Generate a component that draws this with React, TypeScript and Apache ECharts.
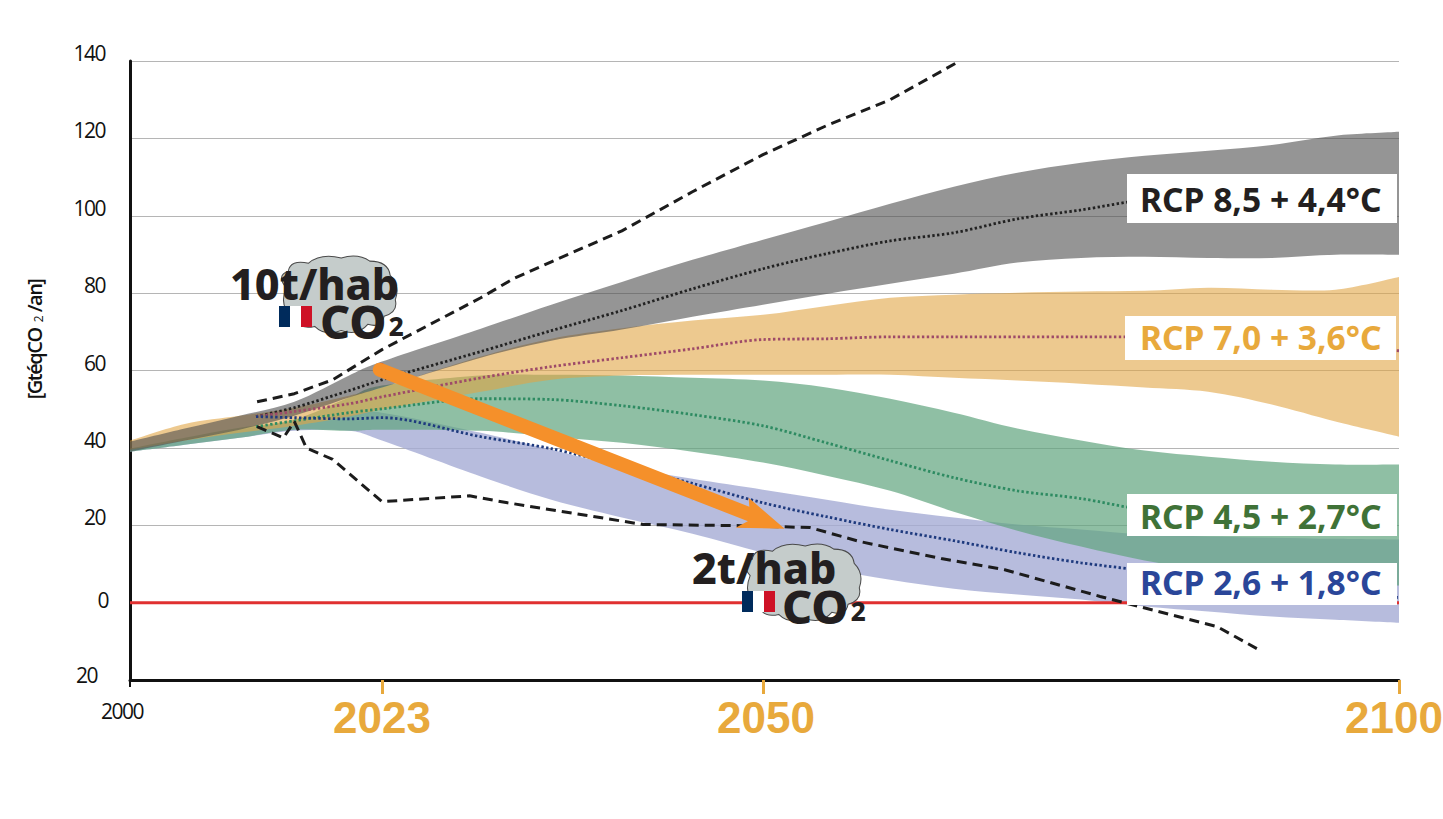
import React, { useEffect, useRef } from "react";
import * as echarts from "echarts";

const years = [2000, 2005, 2010, 2015, 2020, 2023, 2030, 2035, 2040, 2045, 2050, 2055, 2060, 2065, 2070, 2075, 2080, 2085, 2090, 2095, 2100];
const lineYears = [2011.5, 2015, 2020, 2023, 2030, 2035, 2040, 2045, 2050, 2055, 2060, 2065, 2070, 2075, 2080, 2085, 2090, 2095, 2100];

const grayUpper = [41.6, 45, 48.3, 51.9, 58.7, 62.3, 70.8, 77, 82.9, 88.6, 93.8, 98.4, 103.1, 107.5, 111.1, 113.7, 115.5, 116.8, 118.3, 120.7, 121.7];
const grayLower = [39, 41.9, 44.7, 48.3, 53, 55.6, 63.3, 67.7, 70.6, 73.9, 77, 79.8, 82.4, 85, 87.9, 89.1, 89.4, 89.1, 89.1, 89.9, 89.9];
const orangeUpper = [41.9, 46.2, 48.3, 50.4, 53.5, 55.6, 63.6, 68.2, 70.9, 72.9, 74.4, 76.7, 78.8, 79.6, 80.1, 80.4, 80.6, 81.4, 80.9, 80.9, 84.2];
const orangeLower = [39.5, 41.9, 43.9, 45.7, 48.1, 49.9, 54.5, 57.6, 58.7, 58.9, 58.9, 58.9, 58.9, 58.1, 57.4, 56.6, 55.6, 54.5, 51.2, 46.8, 42.9];
const greenUpper = [39.8, 42.6, 45.2, 47.3, 53, 56.1, 58.7, 58.9, 58.7, 58.1, 57.4, 55.6, 52.7, 49.1, 45, 41.9, 39.3, 37.7, 36.4, 35.7, 35.7];
const greenLower = [39, 40.8, 42.6, 44.7, 44.4, 44.7, 44.4, 42.9, 41.3, 39, 36.2, 32.8, 28.9, 23.5, 18.6, 14.5, 10.9, 8.5, 6.7, 5.4, 4.4];
const blueUpper = [39.5, 42.1, 44.7, 46.8, 48.6, 49.1, 43.9, 39.5, 35.1, 32, 29.2, 26.6, 24, 22, 20.2, 18.9, 17.6, 17.1, 16.8, 16.5, 16.3];
const blueLower = [39, 40.8, 42.6, 44.4, 44.4, 41.9, 32.6, 26.6, 22, 17.8, 12.9, 8.8, 5.9, 3.6, 2.1, 0.8, -1, -2.3, -3.6, -4.4, -5.2];

const rcp85 = [48.1, 50.4, 54.8, 57.6, 64.9, 70.3, 75.5, 81.1, 86.3, 90.2, 93.5, 95.6, 99.2, 101.5, 104.1, 104.7, 105.2, 105.4, 105.9];
const rcp70 = [48.1, 49.4, 51.4, 53.2, 58.1, 61, 63.3, 65.6, 68, 68.2, 68.7, 68.7, 68.7, 68.7, 68.7, 68, 66.9, 65.9, 65.1];
const rcp45 = [45.5, 47, 49.1, 50.1, 52.7, 52.5, 50.9, 48.6, 45.7, 41.3, 36.7, 32.3, 28.9, 26.9, 24, 23.3, 22.7, 22.2, 22];
const rcp26 = [48.1, 47.8, 47.5, 47.8, 42.9, 39.8, 35.4, 30.8, 25.8, 22.2, 18.9, 16, 12.9, 10.3, 8.3, 6.5, 4.7, 2.8, 1.3];

const highYears = [2011.6, 2015, 2018.5, 2023, 2030, 2032.3, 2035, 2040, 2045, 2050, 2055, 2060, 2065.2];
const highValues = [51.9, 54, 57.6, 65.4, 78.8, 83.7, 88.1, 96.1, 106.2, 115.8, 123.3, 130, 139.5];
const lowYears = [2011.6, 2014, 2015, 2016.1, 2018.5, 2023, 2029.2, 2031.9, 2041.5, 2048.4, 2051.6, 2053.7, 2057.6, 2064, 2069, 2076.5, 2085.7, 2089.1];
const lowValues = [45.5, 42.6, 46.8, 40, 37, 26.1, 27.6, 25.8, 20.2, 19.9, 19.6, 19.4, 15.8, 11.4, 8.5, 1.6, -6.2, -12.4];

const arrowYears = [2022.8, 2051.7];
const arrowValues = [60.2, 19.1];

const axisYears = [2000, 2023, 2050, 2100];
const axisStops = [0, 19.858, 49.882, 100];
const highlightYears = [2023, 2050, 2100];

const yTickMin = -20;
const yTickMax = 140;
const yTickStep = 20;

const scenarioLabels = ["RCP 8,5 + 4,4°C", "RCP 7,0 + 3,6°C", "RCP 4,5 + 2,7°C", "RCP 2,6 + 1,8°C"];
const scenarioColors = ["#231F20", "#E8A93C", "#3F7237", "#2A4699"];

const warp = (year: number) => {
  for (let i = 1; i < axisYears.length; i++) {
    if (year <= axisYears[i]) {
      const t = (year - axisYears[i - 1]) / (axisYears[i] - axisYears[i - 1]);
      return axisStops[i - 1] + t * (axisStops[i] - axisStops[i - 1]);
    }
  }
  return 100;
};
const yearFromStop = (s: number) => axisYears[axisStops.findIndex((v) => Math.abs(v - s) < 0.01)];

const CLOUD =
  "M8 32 Q-2 20 10 16 Q12 4 30 8 Q42 -2 62 3 Q78 -2 90 6 Q108 6 110 20 Q120 30 115 44 Q118 56 104 60 Q102 72 88 68 Q78 80 62 74 Q46 80 36 70 Q20 74 16 60 Q0 52 8 32 Z";
echarts.graphic.registerShape("cloud", echarts.graphic.extendPath(CLOUD as any, {}) as any);

// Catmull-Rom through screen points, continuing an open sub-path
const spline = (pts: number[][], k = 0.16) => {
  let d = "";
  for (let i = 0; i < pts.length - 1; i++) {
    const p0 = pts[Math.max(i - 1, 0)];
    const p1 = pts[i];
    const p2 = pts[i + 1];
    const p3 = pts[Math.min(i + 2, pts.length - 1)];
    const c1 = [p1[0] + (p2[0] - p0[0]) * k, p1[1] + (p2[1] - p0[1]) * k];
    const c2 = [p2[0] - (p3[0] - p1[0]) * k, p2[1] - (p3[1] - p1[1]) * k];
    d += ` C${c1[0]} ${c1[1]} ${c2[0]} ${c2[1]} ${p2[0]} ${p2[1]}`;
  }
  return d;
};

const band = (name: string, upper: number[], lower: number[], color: string) => ({
  type: "custom",
  name,
  silent: true,
  z: 2,
  clip: false,
  data: years.map((y, i) => [warp(y), lower[i], upper[i]]),
  encode: { x: 0, y: [1, 2] },
  renderItem: (p: any, api: any) => {
    if (p.dataIndex !== 0) return null;
    const top = years.map((y, i) => api.coord([warp(y), upper[i]]));
    const bot = years.map((y, i) => api.coord([warp(y), lower[i]])).reverse();
    const d = `M${top[0][0]} ${top[0][1]}${spline(top)} L${bot[0][0]} ${bot[0][1]}${spline(bot)} Z`;
    return { type: "path", shape: { pathData: d }, style: { fill: color } };
  },
});

const dotted = (name: string, vals: number[], color: string) => ({
  type: "line",
  name,
  symbol: "none",
  smooth: 0.3,
  silent: true,
  z: 4,
  lineStyle: { color, width: 2.8, type: [2.4, 2.4] },
  data: lineYears.map((y, i) => [warp(y), vals[i]]),
});

const dashed = (name: string, xs: number[], vals: number[]) => ({
  type: "line",
  name,
  symbol: "none",
  silent: true,
  z: 5,
  lineStyle: { color: "#1c1c1c", width: 3, type: [10, 6] },
  data: xs.map((y, i) => [warp(y), vals[i]]),
});

const labelBox = (i: number, x: number, y: number, w: number, h: number, tx: number, ty: number) => ({
  type: "group",
  z: 50,
  children: [
    { type: "rect", z: 50, shape: { x, y, width: w, height: h }, style: { fill: "#fff" } },
    {
      type: "text",
      z: 51,
      x: tx,
      y: ty,
      style: {
        text: scenarioLabels[i],
        fill: scenarioColors[i],
        font: "700 33.6px 'Noto Sans'",
        textAlign: "left",
        textVerticalAlign: "middle",
      },
    },
  ],
});

const flagCloud = (cx: number, cy: number, fx: number, fy: number, perHab: string, tx: number, ty: number, ox: number, oy: number) => [
  { type: "cloud", z: 20, x: cx, y: cy, scaleX: 1.02, scaleY: 1.02, style: { fill: "#C5CCCB", stroke: "#4a4a4a", lineWidth: 1 } },
  { type: "rect", z: 21, shape: { x: fx, y: fy, width: 33, height: 21 }, style: { fill: "#fff" } },
  { type: "rect", z: 22, shape: { x: fx, y: fy, width: 11, height: 21 }, style: { fill: "#002B5C" } },
  { type: "rect", z: 22, shape: { x: fx + 22, y: fy, width: 11, height: 21 }, style: { fill: "#CE1126" } },
  {
    type: "text",
    z: 23,
    x: tx,
    y: ty,
    style: { text: perHab, fill: "#231F20", font: "800 43px 'Noto Sans'", lineHeight: 34, textAlign: "left", textVerticalAlign: "middle" },
  },
  {
    type: "text",
    z: 23,
    x: ox,
    y: oy,
    style: {
      text: "{a|CO}{b|2}",
      textAlign: "left",
      textVerticalAlign: "middle",
      rich: {
        a: { fill: "#231F20", font: "800 47px 'Noto Sans'", lineHeight: 36 },
        b: { fill: "#231F20", font: "800 26px 'Noto Sans'", verticalAlign: "bottom", lineHeight: 30, padding: [0, 0, 0, 2] },
      },
    },
  },
];

export default function App() {
  const ref = useRef<HTMLDivElement>(null);
  useEffect(() => {
    document.body.style.margin = "0";
    document.body.style.overflow = "hidden";
    const chart = echarts.init(ref.current!, null, { renderer: "svg" });
    const baseX = {
      type: "value",
      min: 0,
      max: 100,
      splitLine: { show: false },
      position: "bottom",
    };
    chart.setOption({
      animation: false,
      backgroundColor: "#fff",
      grid: { left: 130, right: 44, top: 61, bottom: 139, containLabel: false, outerBoundsMode: "none" },
      xAxis: [
        {
          ...baseX,
          axisLine: { show: true, onZero: false, lineStyle: { color: "#111", width: 3 } },
          axisTick: {
            show: true,
            length: 14,
            customValues: highlightYears.map(warp),
            lineStyle: { color: "#E8A93C", width: 3 },
          },
          axisLabel: {
            show: true,
            hideOverlap: false,
            customValues: highlightYears.map(warp),
            margin: 15,
            formatter: (v: number) => {
              const yr = yearFromStop(v);
              return yr === 2100 ? `{e|${yr}}` : yr === 2050 ? `{m|${yr}}` : `{o|${yr}}`;
            },
            rich: {
              o: { fontFamily: "Liberation Sans", fontWeight: 700, fontSize: 44, color: "#E8A93C" },
              m: { fontFamily: "Liberation Sans", fontWeight: 700, fontSize: 44, color: "#E8A93C", padding: [0, 0, 0, 6] },
              e: { fontFamily: "Liberation Sans", fontWeight: 700, fontSize: 44, color: "#E8A93C", padding: [0, 10, 0, 0] },
            },
          },
        },
        {
          ...baseX,
          axisLine: { show: false, onZero: false },
          axisTick: { show: true, length: 7, customValues: [warp(2000)], lineStyle: { color: "#111", width: 2 } },
          axisLabel: {
            show: true,
            customValues: [warp(2000)],
            margin: 20,
            formatter: (v: number) => `{k|${yearFromStop(v)}}`,
            rich: { k: { fontFamily: "Open Sans", fontSize: 21, color: "#111", padding: [0, 16, 0, 0] } },
          },
        },
      ],
      yAxis: {
        type: "value",
        min: yTickMin,
        max: yTickMax,
        interval: yTickStep,
        name: "{a|[GtéqCO}{s|2}{a|/an]}",
        nameLocation: "middle",
        nameRotate: 90,
        nameGap: 86,
        nameTextStyle: {
          padding: [0, 0, 0, 60],
          rich: {
            a: { fontFamily: "Open Sans", fontSize: 20, fontWeight: 600, color: "#111" },
            s: { fontFamily: "Open Sans", fontSize: 12, color: "#111", padding: [8, 1, 0, 0] },
          },
        },
        axisLine: { show: true, onZero: false, lineStyle: { color: "#111", width: 3 } },
        axisTick: { show: false },
        splitLine: { show: true, lineStyle: { color: "#b5b5b5", width: 1 } },
        axisLabel: {
          margin: 22,
          formatter: (v: number) => {
            const k = v === 0 ? "z" : v < 0 ? "m" : "n";
            return `{${k}|${Math.abs(v)}}`;
          },
          rich: {
            n: { fontFamily: "Open Sans", fontSize: 21, color: "#111", padding: [0, 3, 16, 0] },
            z: { fontFamily: "Open Sans", fontSize: 21, color: "#111", padding: [0, 0, 6, 0] },
            m: { fontFamily: "Open Sans", fontSize: 21, color: "#111", padding: [0, 11, 10, 0] },
          },
        },
      },
      series: [
        band("RCP 2,6 enveloppe", blueUpper, blueLower, "rgba(165,171,212,0.8)"),
        band("RCP 4,5 enveloppe", greenUpper, greenLower, "rgba(95,164,125,0.7)"),
        band("RCP 7,0 enveloppe", orangeUpper, orangeLower, "rgba(225,165,68,0.6)"),
        band("RCP 8,5 enveloppe", grayUpper, grayLower, "rgba(78,78,78,0.6)"),
        {
          type: "line",
          name: "zéro",
          symbol: "none",
          silent: true,
          z: 3,
          lineStyle: { color: "#E03030", width: 3 },
          data: [
            [warp(2000), 0],
            [warp(2100), 0],
          ],
        },
        dotted("RCP 8,5", rcp85, "#222"),
        dotted("RCP 7,0", rcp70, "#9E4A68"),
        dotted("RCP 4,5", rcp45, "#2E8B62"),
        dotted("RCP 2,6", rcp26, "#1E3A7E"),
        dashed("Tendance haute", highYears, highValues),
        dashed("Trajectoire basse", lowYears, lowValues),
        {
          type: "custom",
          name: "Flèche",
          silent: true,
          z: 10,
          clip: false,
          data: [[warp(arrowYears[0]), arrowValues[0]]],
          renderItem: (_p: any, api: any) => {
            const a = api.coord([warp(arrowYears[0]), arrowValues[0]]);
            const b = api.coord([warp(arrowYears[1]), arrowValues[1]]);
            const orange = "#F5902A";
            return {
              type: "group",
              children: [
                { type: "circle", shape: { cx: a[0] + 1, cy: a[1] - 3, r: 4 }, style: { fill: "#E03030" } },
                {
                  type: "line",
                  shape: { x1: a[0], y1: a[1], x2: b[0] - 29, y2: b[1] - 12 },
                  style: { stroke: orange, lineWidth: 14, lineCap: "round" },
                },
                {
                  type: "polygon",
                  shape: {
                    points: [
                      [b[0], b[1]],
                      [b[0] - 36, b[1] - 31],
                      [b[0] - 35, b[1] - 18],
                      [b[0] - 36, b[1] - 8],
                      [b[0] - 49, b[1] - 1],
                    ],
                  },
                  style: { fill: orange },
                },
              ],
            };
          },
        },
      ],
      graphic: {
        elements: [
          ...flagCloud(278, 255, 279, 306, "10t/hab", 230, 283, 320, 321),
          ...flagCloud(742, 543, 742, 591, "2t/hab", 692, 567, 782, 606),
          labelBox(0, 1127, 174, 270, 49, 1140, 199),
          labelBox(1, 1125, 316, 271, 44, 1140, 337),
          labelBox(2, 1127, 494, 270, 42, 1140, 516),
          labelBox(3, 1127, 563, 270, 42, 1140, 582),
        ],
      },
    });
    return () => chart.dispose();
  }, []);
  return (
    <>
      <style>{`text[style*="Open Sans"]{letter-spacing:-1.5px}`}</style>
      <div ref={ref} style={{ width: 1443, height: 819 }} />
    </>
  );
}
